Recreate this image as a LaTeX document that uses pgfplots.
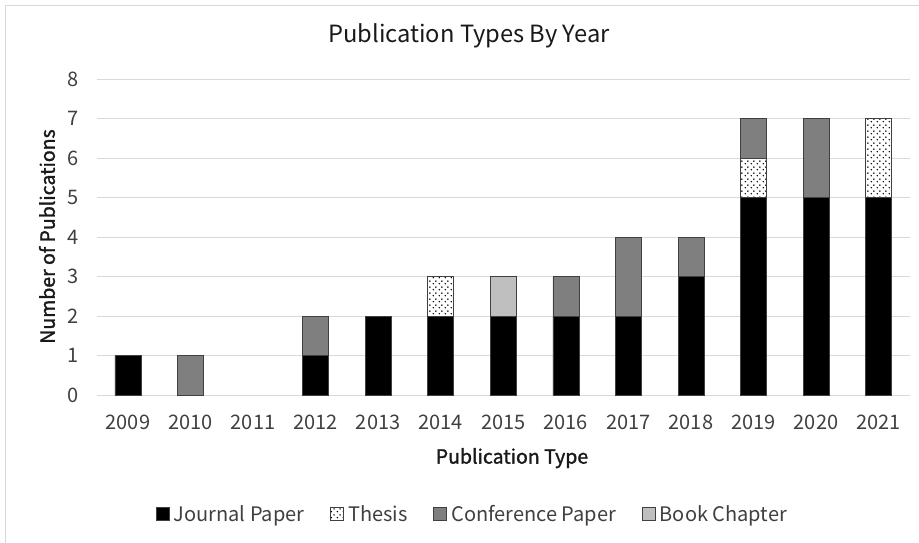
\documentclass[border=0pt]{standalone}
\usepackage{pgfplots}
\pgfplotsset{compat=1.18}
\usepackage{fontspec}
\setmainfont{Noto Sans CJK SC}
\newfontfamily\medfont{Noto Sans CJK SC}[FakeBold=1.5]
\usetikzlibrary{patterns,patterns.meta}

\definecolor{confgray}{RGB}{127,127,127}
\definecolor{bookgray}{RGB}{191,191,191}
\definecolor{edgegray}{RGB}{64,64,64}
\definecolor{gridgray}{RGB}{217,217,217}
\definecolor{txt}{RGB}{64,64,64}

\tikzdeclarepattern{
  name=thesisdots, type=uncolored,
  bounding box={(0pt,0pt) and (6pt,6pt)},
  tile size={(6pt,6pt)},
  code={
    \fill (1.5pt,1.5pt) circle (0.9pt);
    \fill (4.5pt,4.5pt) circle (0.9pt);
  }
}

\begin{document}
\begin{tikzpicture}
\useasboundingbox (0,0) rectangle (919pt,542pt);
\draw[gridgray, line width=1.2pt] (5.5pt,-5pt) -- (5.5pt,536.5pt) -- (930pt,536.5pt);
\begin{axis}[
    at={(96.7pt,147pt)}, anchor=south west,
    scale only axis, width=813.3pt, height=315.7pt,
    ybar stacked, bar width=0.416,
    xmin=2008.5, xmax=2021.5, ymin=0, ymax=8,
    xtick={2009,...,2021}, ytick={0,...,8},
    major tick length=0,
    axis line style={draw=none},
    ymajorgrids, grid style={gridgray, line width=1pt},
    tick label style={font=\fontsize{20}{22}\selectfont, text=txt},
    /pgf/number format/assume math mode=true,
    /pgf/number format/1000 sep={},
    yticklabel style={xshift=-15pt},
    xticklabel style={yshift=-16pt},
    title={Publication Types By Year},
    title style={at={(rel axis cs:0.4578,1.118)}, anchor=center,
        font=\fontsize{23.7}{26}\selectfont, text=black!90},
    xlabel={Publication Type},
    xlabel style={at={(rel axis cs:0.5106,-0.200)}, anchor=center,
        font=\medfont\fontsize{19.5}{22}\selectfont, text=black!90},
    ylabel={Number of Publications},
    ylabel style={at={(rel axis cs:-0.0611,0.502)}, anchor=center,
        font=\medfont\fontsize{19.5}{22}\selectfont, text=black!90},
    every axis plot/.append style={draw=edgegray, line width=0.8pt},
    legend style={at={(rel axis cs:0.4620,-0.377)}, anchor=center,
        draw=none, legend columns=4,
        font=\fontsize{20}{22}\selectfont, text=txt,
        /tikz/every even column/.append style={column sep=24pt}},
    legend image code/.code={\draw[#1] (0pt,-6.5pt) rectangle (13pt,6.5pt);
        \path (15pt,0pt);},
]

% Journal Paper
\addplot[fill=black] coordinates {
    (2009,1) (2010,0) (2012,1) (2013,2) (2014,2) (2015,2) (2016,2)
    (2017,2) (2018,3) (2019,5) (2020,5) (2021,5)};
% Thesis
\addplot[fill=white, postaction={pattern=thesisdots, pattern color=black}] coordinates {
    (2009,0) (2010,0) (2012,0) (2013,0) (2014,1) (2015,0) (2016,0)
    (2017,0) (2018,0) (2019,1) (2020,0) (2021,2)};
% Conference Paper
\addplot[fill=confgray] coordinates {
    (2009,0) (2010,1) (2012,1) (2013,0) (2014,0) (2015,0) (2016,1)
    (2017,2) (2018,1) (2019,1) (2020,2) (2021,0)};
% Book Chapter
\addplot[fill=bookgray] coordinates {
    (2009,0) (2010,0) (2012,0) (2013,0) (2014,0) (2015,1) (2016,0)
    (2017,0) (2018,0) (2019,0) (2020,0) (2021,0)};

\legend{Journal Paper, Thesis, Conference Paper, Book Chapter}
\end{axis}
\end{tikzpicture}
\end{document}
